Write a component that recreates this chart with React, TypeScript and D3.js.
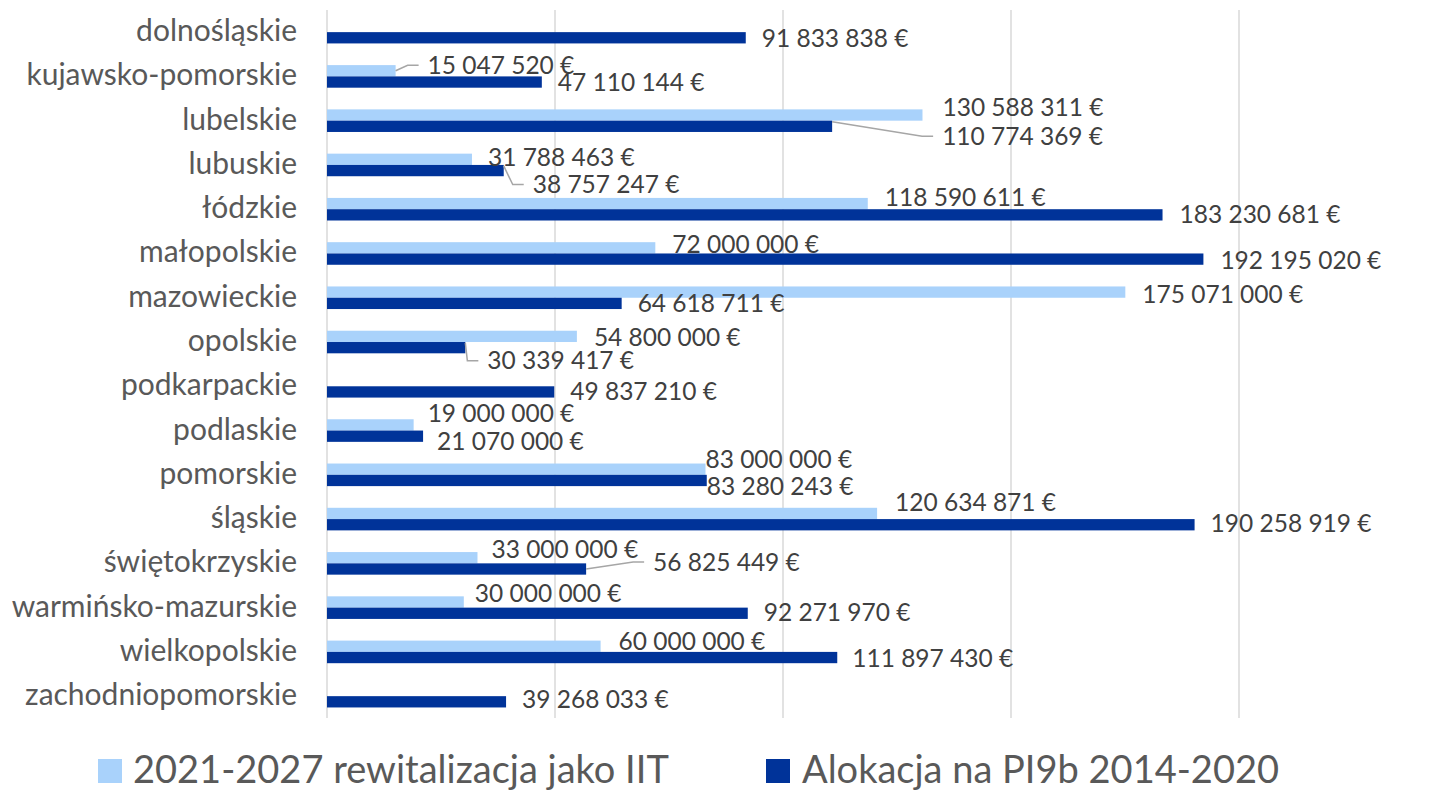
import React from 'react';
import * as d3 from 'd3';

const categories = [
  'dolnośląskie', 'kujawsko-pomorskie', 'lubelskie', 'lubuskie', 'łódzkie',
  'małopolskie', 'mazowieckie', 'opolskie', 'podkarpackie', 'podlaskie',
  'pomorskie', 'śląskie', 'świętokrzyskie', 'warmińsko-mazurskie',
  'wielkopolskie', 'zachodniopomorskie',
];

// 2021-2027 rewitalizacja jako IIT (null = no bar)
const iit2127 = [
  null, 15047520, 130588311, 31788463, 118590611, 72000000, 175071000, 54800000,
  null, 19000000, 83000000, 120634871, 33000000, 30000000, 60000000, null,
];

// Alokacja na PI9b 2014-2020
const pi9b1420 = [
  91833838, 47110144, 110774369, 38757247, 183230681, 192195020, 64618711, 30339417,
  49837210, 21070000, 83280243, 190258919, 56825449, 92271970, 111897430, 39268033,
];

const seriesNames = ['2021-2027 rewitalizacja jako IIT', 'Alokacja na PI9b 2014-2020'];
const xTicks = [0, 50e6, 100e6, 150e6, 200e6];

// manual label nudges [dx from bar end, dy from bar centre, leader line]
const lightNudge: ([number, number, boolean] | null)[] = [
  null, [32, -5.5, true], [20, -8, false], [16, -2, false], [17, -6, false],
  [17, -3, false], [17, 2, false], [17, 1, false], null, [14, -11, false],
  [0, -10, false], [18, -11, false], [14, -8, false], [11, -9, false], [18, -5, false], null,
];
const darkNudge: [number, number, boolean][] = [
  [16, 0.5, false], [16, 0, false], [110, 10, true], [29, 14, true], [17, 0, false],
  [17, 1, false], [16, 0, false], [22, 13, true], [16, -1, false], [14, 5, false],
  [0, 6, false], [16, -1, false], [67, -7, true], [16, -1, false], [15, 1, false], [16, -2, false],
];

const LIGHT = '#A9D2FB';
const DARK = '#003399';
const FONT = 'Lato, "Open Sans", sans-serif';

const fmt = (v: number) => d3.format(',')(v).replace(/,/g, ' ') + ' €';

export default function App() {
  const width = 1453;
  const height = 790;
  const x = d3.scaleLinear().domain([0, 200e6]).range([327, 1239]);
  const y0 = d3.scaleBand<string>().domain(categories).range([10, 718.3]).padding(0);
  const y1 = d3.scaleBand<string>().domain(['l', 'd']).range([0, y0.bandwidth()])
    .paddingInner(0).paddingOuter(0.96);
  const bh = y1.bandwidth();

  const label = (v: number, cat: string, key: string, n: [number, number, boolean]) => {
    const bx = x(v);
    const by = (y0(cat) as number) + (y1(key) as number) + bh / 2;
    const lx = bx + n[0];
    const ly = by + n[1];
    return (
      <g key={key + cat}>
        {n[2] && (
          <polyline
            points={`${bx},${key === 'd' && n[1] > 0 ? by - bh / 2 + 1 : by} ${lx - 20},${ly} ${lx - 9},${ly}`}
            fill="none" stroke="#A6A6A6" strokeWidth={1.5} />
        )}
        <text x={lx} y={ly} dy="0.35em" fontSize={24.5} fill="#404040" fontFamily={FONT}>
          {fmt(v)}
        </text>
      </g>
    );
  };

  return (
    <svg width={width} height={height} style={{ position: 'absolute', left: 0, top: 0 }}>
      <rect width={width} height={height} fill="#fff" />
      {xTicks.map((t) => (
        <line key={t} x1={x(t)} x2={x(t)} y1={10} y2={718} stroke="#D9D9D9" strokeWidth={1.5} />
      ))}
      {categories.map((c) => {
        const yc = (y0(c) as number) + y0.bandwidth() / 2;
        return (
          <text key={c} x={297} y={yc} dy="0.3em" textAnchor="end" fontSize={30}
            fill="#595959" fontFamily={FONT}>{c}</text>
        );
      })}
      {categories.map((c, i) => {
        const v = iit2127[i];
        if (v == null) return null;
        return <rect key={'l' + c} x={x(0)} y={(y0(c) as number) + (y1('l') as number)}
          width={x(v) - x(0)} height={bh} fill={LIGHT} />;
      })}
      {categories.map((c, i) => (
        <rect key={'d' + c} x={x(0)} y={(y0(c) as number) + (y1('d') as number)}
          width={x(pi9b1420[i]) - x(0)} height={bh} fill={DARK} />
      ))}
      {categories.map((c, i) => {
        const v = iit2127[i];
        const n = lightNudge[i];
        return v != null && n ? label(v, c, 'l', n) : null;
      })}
      {categories.map((c, i) => label(pi9b1420[i], c, 'd', darkNudge[i]))}
      <g fontFamily={FONT} fontSize={38} fill="#595959">
        <rect x={98} y={759} width={24} height={24} fill={LIGHT} />
        <text x={133} y={783}>{seriesNames[0]}</text>
        <rect x={766} y={759} width={24} height={24} fill={DARK} />
        <text x={802} y={783}>{seriesNames[1]}</text>
      </g>
    </svg>
  );
}
